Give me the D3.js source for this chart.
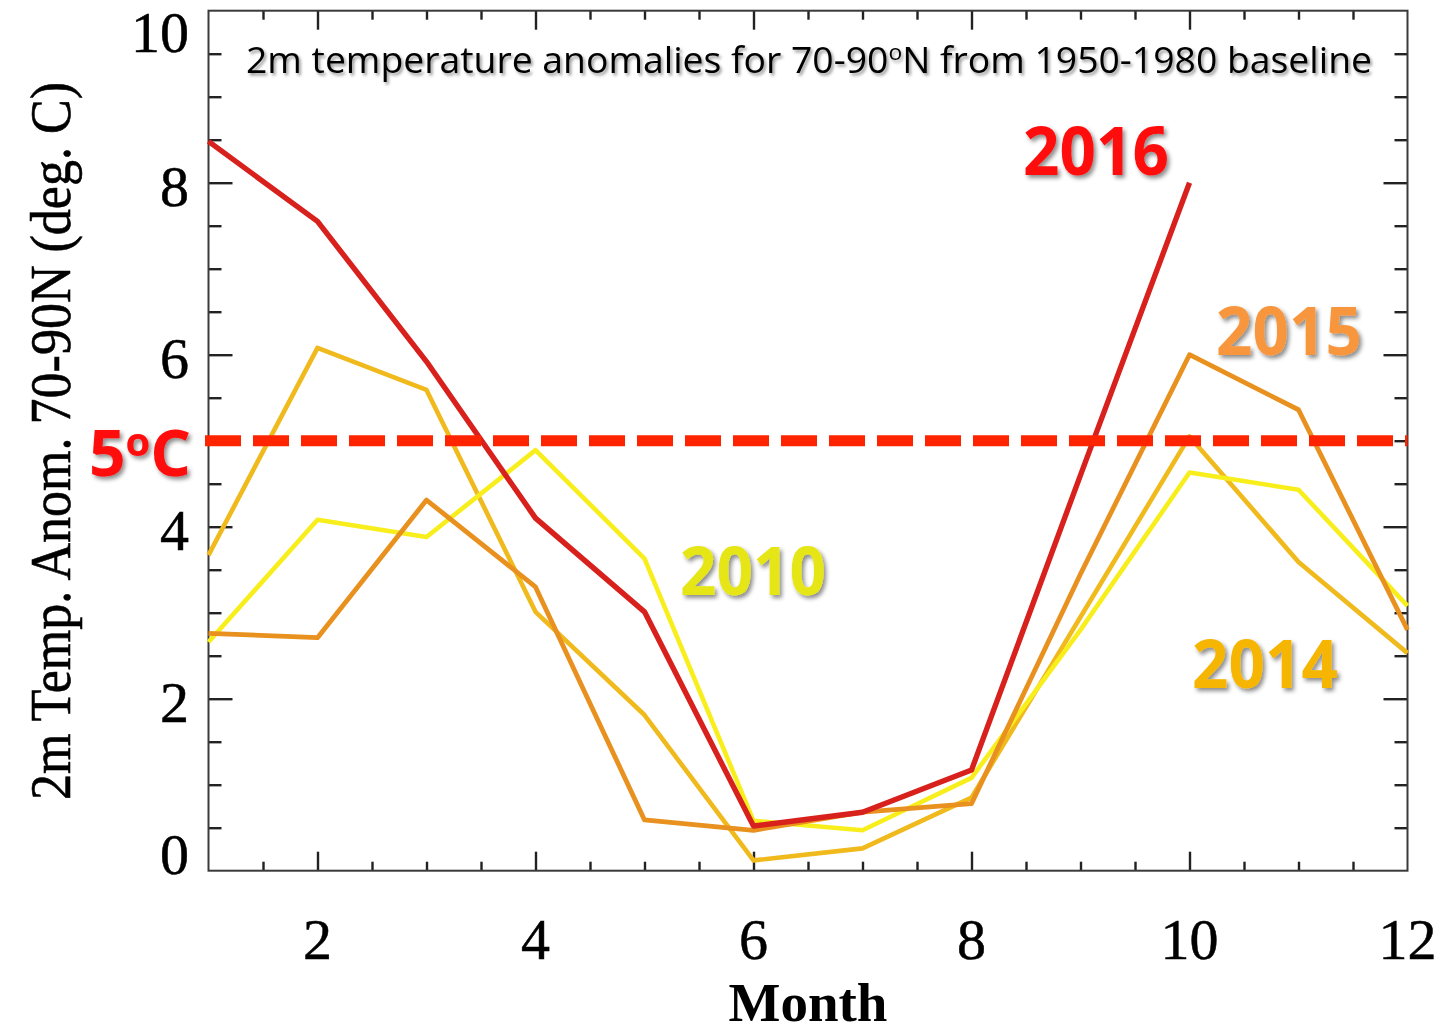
<!DOCTYPE html>
<html>
<head>
<meta charset="utf-8">
<script src="https://cdn.jsdelivr.net/npm/d3@7"></script>
<style>
  html, body { margin: 0; padding: 0; background: #ffffff; }
  svg { display: block; }
</style>
</head>
<body>
<svg id="chart" width="1447" height="1035"></svg>
<script>
// Monthly 2m temperature anomalies, 70-90°N, relative to 1950-1980 (deg C)
const months = [1, 2, 3, 4, 5, 6, 7, 8, 9, 10, 11, 12];
const anom2016 = [8.48, 7.55, 5.92, 4.10, 3.01, 0.52, 0.68, 1.17, 4.60, 8.00]; // Jan-Oct only
const anom2015 = [2.76, 2.71, 4.31, 3.30, 0.59, 0.47, 0.68, 0.78, 3.45, 6.00, 5.36, 2.80];
const anom2014 = [3.67, 6.08, 5.59, 3.01, 1.81, 0.12, 0.26, 0.85, 2.95, 5.05, 3.59, 2.53];
const anom2010 = [2.66, 4.08, 3.88, 4.89, 3.63, 0.58, 0.47, 1.08, 2.80, 4.63, 4.43, 3.08];
const thresholdValue = 5;
const yMajorTicks = [0, 2, 4, 6, 8, 10];
const xMajorTicks = [2, 4, 6, 8, 10, 12];
const yearLabels = ["2016", "2015", "2010", "2014"];

const svg = d3.select("#chart");
const plotLeft = 208.5, plotRight = 1407.5, plotTop = 10.7, plotBottom = 870.7;

const x = d3.scaleLinear().domain([1, 12]).range([plotLeft, plotRight]);
const y = d3.scaleLinear().domain([0, 10]).range([plotBottom, plotTop]);

// drop shadow used by the annotation texts
const defs = svg.append("defs");
const sh = defs.append("filter").attr("id", "shadow")
  .attr("x", "-10%").attr("y", "-20%").attr("width", "130%").attr("height", "150%");
sh.append("feDropShadow").attr("dx", 2.5).attr("dy", 3).attr("stdDeviation", 2)
  .attr("flood-color", "#000").attr("flood-opacity", 0.45);
const shT = defs.append("filter").attr("id", "shadowTitle")
  .attr("x", "-5%").attr("y", "-30%").attr("width", "110%").attr("height", "170%");
shT.append("feDropShadow").attr("dx", 2).attr("dy", 2.5).attr("stdDeviation", 1.8)
  .attr("flood-color", "#000").attr("flood-opacity", 0.4);

// ---- ticks (inward on all four sides) ----
const yMinor = d3.range(0.5, 10, 0.5).filter(v => v % 2 !== 0);
const xMinor = d3.range(1.5, 12, 0.5).filter(v => v % 2 !== 0);

function drawAxis(axis, transform) {
  const g = svg.append("g").attr("transform", transform).call(axis);
  g.select(".domain").remove();
  g.selectAll("text").remove();
  g.selectAll("line").attr("stroke", "#222").attr("stroke-width", 2.4);
  return g;
}
const yInner = yMajorTicks.filter(v => v > 0 && v < 10);
const xInner = xMajorTicks.filter(v => v < 12);
drawAxis(d3.axisLeft(y).tickValues(yInner).tickSize(-24), `translate(${plotLeft},0)`);
drawAxis(d3.axisLeft(y).tickValues(yMinor).tickSize(-13), `translate(${plotLeft},0)`);
drawAxis(d3.axisRight(y).tickValues(yInner).tickSize(-24), `translate(${plotRight},0)`);
drawAxis(d3.axisRight(y).tickValues(yMinor).tickSize(-13), `translate(${plotRight},0)`);
drawAxis(d3.axisBottom(x).tickValues(xInner).tickSize(-19), `translate(0,${plotBottom})`);
drawAxis(d3.axisBottom(x).tickValues(xMinor).tickSize(-9), `translate(0,${plotBottom})`);
drawAxis(d3.axisTop(x).tickValues(xInner).tickSize(-19), `translate(0,${plotTop})`);
drawAxis(d3.axisTop(x).tickValues(xMinor).tickSize(-9), `translate(0,${plotTop})`);

// frame
svg.append("rect").attr("x", plotLeft).attr("y", plotTop)
  .attr("width", plotRight - plotLeft).attr("height", plotBottom - plotTop)
  .attr("fill", "none").attr("stroke", "#3a3a3a").attr("stroke-width", 2);

// tick labels
const serif = "'Liberation Serif', 'Times New Roman', serif";
svg.append("g").selectAll("text").data(yMajorTicks).join("text")
  .attr("x", 189)
  .attr("y", d => y(d) + (d === 10 ? 22 : d === 0 ? -16 : 4) + 19)
  .attr("text-anchor", "end")
  .attr("font-family", serif)
  .attr("font-size", 58).attr("fill", "#000")
  .attr("stroke", "#000").attr("stroke-width", 0.5)
  .text(d => d);

svg.append("g").selectAll("text").data(xMajorTicks).join("text")
  .attr("x", d => x(d))
  .attr("y", 959)
  .attr("text-anchor", "middle")
  .attr("font-family", serif)
  .attr("font-size", 58).attr("fill", "#000")
  .attr("stroke", "#000").attr("stroke-width", 0.5)
  .text(d => d);

// axis titles
svg.append("text")
  .attr("x", 808).attr("y", 1021)
  .attr("text-anchor", "middle")
  .attr("font-family", serif)
  .attr("font-weight", "bold").attr("font-size", 55).attr("fill", "#000")
  .text("Month");

svg.append("text")
  .attr("transform", "translate(70,441) rotate(-90)")
  .attr("text-anchor", "middle")
  .attr("font-family", serif)
  .attr("font-size", 58).attr("fill", "#000")
  .attr("stroke", "#000").attr("stroke-width", 0.6)
  .attr("textLength", 718).attr("lengthAdjust", "spacingAndGlyphs")
  .text("2m Temp. Anom. 70-90N (deg. C)");

// ---- data lines ----
const line = d3.line().x((d, i) => x(months[i])).y(d => y(d));
const series = [
  { values: anom2014, color: "#f0b91c", width: 4.6 },
  { values: anom2010, color: "#f8ee1c", width: 4.6 },
  { values: anom2015, color: "#e8911e", width: 4.8 },
  { values: anom2016, color: "#d8201c", width: 5.4 }
];
svg.append("g").selectAll("path").data(series).join("path")
  .attr("d", d => line(d.values))
  .attr("fill", "none")
  .attr("stroke", d => d.color)
  .attr("stroke-width", d => d.width)
  .attr("stroke-linejoin", "round");

// 5 degree threshold
svg.append("line")
  .attr("x1", 205).attr("x2", plotRight)
  .attr("y1", y(thresholdValue)).attr("y2", y(thresholdValue))
  .attr("stroke", "#ff2400").attr("stroke-width", 11)
  .attr("stroke-dasharray", "36 12");

// ---- annotations ----
const labelFont = "'Open Sans', 'DejaVu Sans', sans-serif";
const labelSpec = [
  { t: yearLabels[0], x: 1096, y: 175, c: "#ff1111" },
  { t: yearLabels[1], x: 1289, y: 355, c: "#f7963e" },
  { t: yearLabels[2], x: 753, y: 595, c: "#e6e612" },
  { t: yearLabels[3], x: 1265, y: 688, c: "#f6b500" }
];
svg.append("g").selectAll("text").data(labelSpec).join("text")
  .attr("x", d => d.x).attr("y", d => d.y)
  .attr("text-anchor", "middle")
  .attr("font-family", labelFont).attr("font-weight", "bold")
  .attr("font-size", 66).attr("fill", d => d.c)
  .attr("textLength", 146).attr("lengthAdjust", "spacingAndGlyphs")
  .attr("filter", "url(#shadow)")
  .text(d => d.t);

const deg = svg.append("text")
  .attr("x", 89).attr("y", 476)
  .attr("font-family", labelFont).attr("font-weight", "bold")
  .attr("font-size", 64).attr("fill", "#ff0a0a")
  .attr("filter", "url(#shadow)");
deg.append("tspan").text("5");
deg.append("tspan").attr("font-size", 40).attr("dy", -20).text("o");
deg.append("tspan").attr("dy", 20).text("C");

const title = svg.append("text")
  .attr("x", 246).attr("y", 73)
  .attr("font-family", labelFont)
  .attr("font-size", 36).attr("fill", "#000")
  .attr("textLength", 1126).attr("lengthAdjust", "spacingAndGlyphs")
  .attr("filter", "url(#shadowTitle)");
title.append("tspan").text("2m temperature anomalies for 70-90");
title.append("tspan").attr("font-size", 22).attr("dy", -13).text("o");
title.append("tspan").attr("dy", 13).text("N from 1950-1980 baseline");
</script>
</body>
</html>
